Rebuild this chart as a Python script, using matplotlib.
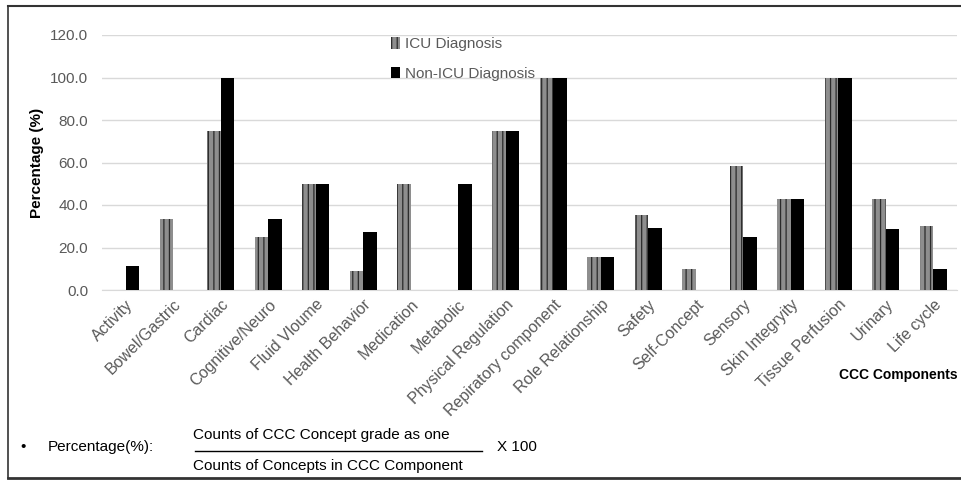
import numpy as np
import matplotlib
matplotlib.use("Agg")
import matplotlib.pyplot as plt
from matplotlib.lines import Line2D
from matplotlib import font_manager

components = ["Activity", "Bowel/Gastric", "Cardiac", "Cognitive/Neuro", "Fluid Vloume",
              "Health Behavior", "Medication", "Metabolic", "Physical Regulation",
              "Repiratory component", "Role Relationship", "Safety", "Self-Concept",
              "Sensory", "Skin Integryity", "Tissue Perfusion", "Urinary", "Life cycle"]
icu = [0.0, 33.3, 75.0, 25.0, 50.0, 9.1, 50.0, 0.0, 75.0, 100.0,
       15.4, 35.3, 10.0, 58.3, 42.9, 100.0, 42.9, 30.0]
non_icu = [11.1, 0.0, 100.0, 33.3, 50.0, 27.3, 0.0, 50.0, 75.0, 100.0,
           15.4, 29.4, 0.0, 25.0, 42.9, 100.0, 28.6, 10.0]
yticks = [0, 20, 40, 60, 80, 100, 120]


def pick_font(names):
    for n in names:
        try:
            font_manager.findfont(n, fallback_to_default=False)
            return n
        except Exception:
            pass
    return "DejaVu Sans"


main_font = pick_font(["Liberation Sans", "Open Sans"])
narrow_font = pick_font(["Liberation Sans Narrow", "Liberation Sans"])
plt.rcParams["font.family"] = [main_font, "DejaVu Sans"]
plt.rcParams["hatch.linewidth"] = 0.9

W, H = 962, 483
fig = plt.figure(figsize=(W / 100, H / 100), dpi=100)
ax = fig.add_axes([102 / W, (H - 290) / H, (957 - 102) / W, (290 - 35) / H])

x = np.arange(len(components))
bw = 0.285
gray = "#595959"
ax.bar(x - bw / 2, icu, bw, color="#8e8e8e", edgecolor="#2a2a2a", hatch="|||",
       linewidth=0, label="ICU Diagnosis", zorder=3)
ax.bar(x + bw / 2, non_icu, bw, color="black", linewidth=0,
       label="Non-ICU Diagnosis", zorder=3)

ax.set_xlim(-0.5, len(components) - 0.5)
ax.set_ylim(0, 120)
ax.set_yticks(yticks)
ax.set_yticklabels([f"{v:.1f}" for v in yticks], color=gray, fontsize=11)
ax.set_xticks(x)
ax.set_xticklabels(components, rotation=45, ha="right", rotation_mode="anchor",
                   color=gray, fontsize=11.5)
ax.tick_params(axis="y", length=0, pad=10)
ax.tick_params(axis="x", length=0, pad=5)
ax.grid(axis="y", color="#d9d9d9", linewidth=1, zorder=0)
for s in ["top", "right", "left"]:
    ax.spines[s].set_visible(False)
ax.spines["bottom"].set_color("#d9d9d9")

ax.set_ylabel("Percentage (%)", fontsize=11, fontweight="bold", color="black")
ax.yaxis.set_label_coords(-58 / 855, 0.5)

leg = ax.legend(loc="upper left", bbox_to_anchor=((385 - 102) / 855, (290 - 31) / 255),
                frameon=False, fontsize=11, labelspacing=1.0, handlelength=0.6,
                handleheight=0.8, handletextpad=0.3, borderaxespad=0)
for t in leg.get_texts():
    t.set_color(gray)

fig.text(958 / W, 1 - 375 / H, "CCC Components", ha="right", va="center",
         fontsize=10, fontweight="bold", family=narrow_font)

# formula note under the chart
fig.text(20 / W, 1 - 447 / H, "•", ha="left", va="center", fontsize=11)
fig.text(48 / W, 1 - 447 / H, "Percentage(%):", ha="left", va="center",
         fontsize=11, family=narrow_font)
fig.text(193 / W, 1 - 435 / H, "Counts of CCC Concept grade as one", ha="left",
         va="center", fontsize=11, family=narrow_font)
fig.text(193 / W, 1 - 466 / H, "Counts of Concepts in CCC Component", ha="left",
         va="center", fontsize=11, family=narrow_font)
fig.text(497 / W, 1 - 447 / H, "X 100", ha="left", va="center",
         fontsize=11, family=narrow_font)
fig.add_artist(Line2D([195 / W, 482 / W], [1 - 451 / H, 1 - 451 / H],
                      color="black", linewidth=1))

# frame around the figure
fig.add_artist(Line2D([8 / W, 8 / W], [1 - 6 / H, 1 - 478 / H], color="#333333", linewidth=1.2))
fig.add_artist(Line2D([8 / W, 1], [1 - 6 / H, 1 - 6 / H], color="#333333", linewidth=1.5))
fig.add_artist(Line2D([8 / W, 1], [1 - 478 / H, 1 - 478 / H], color="#333333", linewidth=2))

fig.savefig("out.png", dpi=100, facecolor="white")
